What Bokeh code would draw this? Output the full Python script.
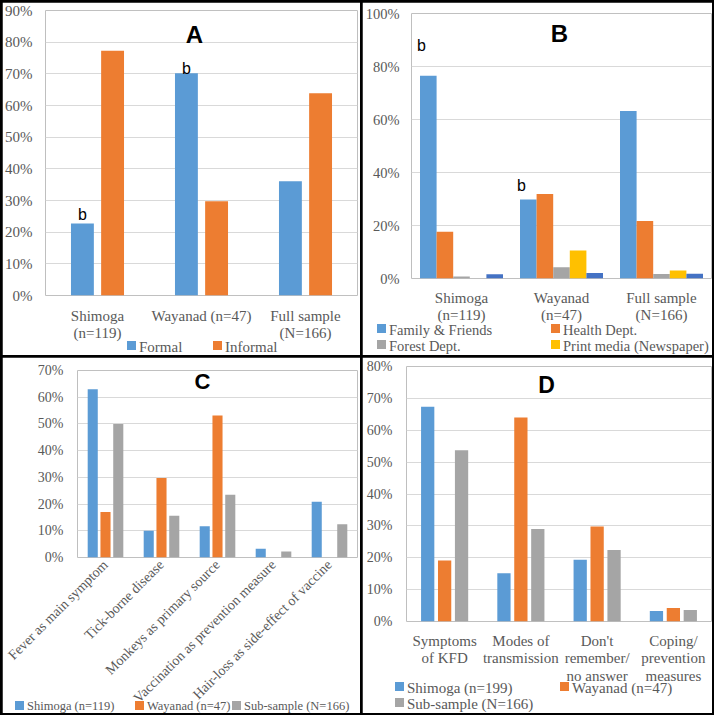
from bokeh.plotting import figure
from bokeh.layouts import column
from bokeh.models import (ColumnDataSource, FactorRange, Range1d, Label,
                          PrintfTickFormatter, FixedTicker, GridBox, Div)
from bokeh.transform import dodge
from bokeh.core.properties import value
from bokeh.embed import file_html
from bokeh.resources import INLINE
import html as _html
import math

SERIF = "Liberation Serif"
SANS = "Liberation Sans"
TXT = "#595959"
GRID = "#D9D9D9"
BLUE = "#5B9BD5"; ORANGE = "#ED7D31"; GRAY = "#A5A5A5"; YELLOW = "#FFC000"; DBLUE = "#4472C4"

# ---------------- Panel A ----------------
a_cats = ["Shimoga\n(n=119)", "Wayanad (n=47)", "Full sample\n(N=166)"]
a_formal = [22.7, 70.2, 36.1]
a_informal = [77.3, 29.8, 63.9]
a_yticks = [0, 10, 20, 30, 40, 50, 60, 70, 80, 90]
a_b_cats = ["Shimoga\n(n=119)", "Wayanad (n=47)"]
a_b_vals = [22.7, 70.2]
a_legend = ["Formal", "Informal"]

# ---------------- Panel B ----------------
b_cats = ["Shimoga\n(n=119)", "Wayanad\n(n=47)", "Full sample\n(N=166)"]
b_family = [76.5, 29.8, 63.2]
b_health = [17.6, 31.9, 21.7]
b_forest = [0.8, 4.2, 1.7]
b_print = [0.0, 10.6, 3.0]
b_other = [1.6, 2.1, 1.8]
b_yticks = [0, 20, 40, 60, 80, 100]
b_b_cats = ["Shimoga\n(n=119)", "Wayanad\n(n=47)"]
b_b_vals = [76.5, 29.8]
b_legend = ["Family & Friends", "Health Dept.", "Forest Dept.", "Print media (Newspaper)"]

# ---------------- Panel C ----------------
c_cats = ["Fever as main symptom", "Tick-borne disease", "Monkeys as primary source",
          "Vaccination as prevention measure", "Hair-loss as side-effect of vaccine"]
c_shimoga = [63.0, 10.0, 11.7, 3.3, 20.9]
c_wayanad = [17.0, 29.8, 53.2, 0.0, 0.0]
c_sub = [50.0, 15.6, 23.5, 2.2, 12.4]
c_yticks = [0, 10, 20, 30, 40, 50, 60, 70]
c_legend = ["Shimoga (n=119)", "Wayanad (n=47)", "Sub-sample (N=166)"]

# ---------------- Panel D ----------------
d_cats = ["Symptoms\nof KFD", "Modes of\ntransmission", "Don't\nremember/\nno answer",
          "Coping/\nprevention\nmeasures"]
d_shimoga = [67.4, 15.1, 19.4, 3.3]
d_wayanad = [19.1, 64.0, 29.8, 4.2]
d_sub = [53.7, 29.0, 22.4, 3.6]
d_yticks = [0, 10, 20, 30, 40, 50, 60, 70, 80]
d_legend = ["Shimoga (n=199)", "Wayanad (n=47)", "Sub-sample (N=166)"]

WL, WR, HT, HB = 358, 350, 353, 356


def make_fig(cats, ymax, yticks, w, h, left, right, top, bottom, ystand, xstand, ysize, xsize):
    p = figure(x_range=FactorRange(*cats), y_range=Range1d(0, ymax), width=w, height=h,
               output_backend="svg", toolbar_location=None,
               min_border_left=left, min_border_right=right, min_border_top=top,
               min_border_bottom=bottom)
    p.outline_line_color = None
    p.background_fill_color = "white"
    p.border_fill_color = "white"
    p.xgrid.grid_line_color = None
    p.ygrid.grid_line_color = GRID
    p.ygrid.grid_line_width = 1
    p.yaxis.ticker = FixedTicker(ticks=yticks)
    p.yaxis.formatter = PrintfTickFormatter(format="%d%%")
    for ax in (p.xaxis[0], p.yaxis[0]):
        ax.axis_line_color = None
        ax.major_tick_line_color = None
        ax.minor_tick_line_color = None
        ax.major_tick_out = 0
        ax.major_tick_in = 0
        ax.minor_tick_out = 0
        ax.minor_tick_in = 0
        ax.major_label_text_font = SERIF
        ax.major_label_text_color = TXT
    p.xaxis.major_label_text_line_height = 1.1
    p.yaxis.major_label_text_font_size = ysize
    p.xaxis.major_label_text_font_size = xsize
    p.yaxis.major_label_standoff = ystand
    p.xaxis.major_label_standoff = xstand
    return p


def legend_div(w, h, labels, colors, spots, size):
    parts = []
    for lab, col, (x, yc) in zip(labels, colors, spots):
        parts.append(
            f'<div style="position:absolute;left:{x}px;top:{yc - 7}px;height:14px;'
            f'line-height:14px;white-space:nowrap;">'
            f'<span style="display:inline-block;width:9px;height:9px;background:{col};'
            f'margin-right:3px;vertical-align:middle;position:relative;top:-1px;"></span>'
            f'<span style="vertical-align:middle;">{_html.escape(lab)}</span></div>')
    text = (f'<div style="position:relative;width:{w}px;height:{h}px;'
            f'font-family:\'{SERIF}\';font-size:{size};color:{TXT};">' + "".join(parts) + '</div>')
    return Div(text=text, width=w, height=h, margin=0,
               styles={"pointer-events": "none", "background": "transparent"})


def title(p, text, x, y, size):
    p.add_layout(Label(x=x, y=y, x_units="screen", y_units="screen", text=text,
                       text_font=SANS, text_font_style="bold", text_font_size=size,
                       text_align="center", text_baseline="middle", text_color="black"))


# ---------- A ----------
pA = make_fig(a_cats, 90, a_yticks, WL, HT, 43, 3, 8, 60, 13, 12, "15px", "15px")
srcA = ColumnDataSource(dict(cat=a_cats, formal=a_formal, informal=a_informal))
pA.vbar(x=dodge("cat", -0.145, range=pA.x_range), top="formal", width=0.22,
        source=srcA, fill_color=BLUE, line_color=None)
pA.vbar(x=dodge("cat", 0.145, range=pA.x_range), top="informal", width=0.22,
        source=srcA, fill_color=ORANGE, line_color=None)
srcAb = ColumnDataSource(dict(cat=a_b_cats, v=a_b_vals, t=["b", "b"], dy=[-9, -5]))
pA.text(x=dodge("cat", -0.145, range=pA.x_range), y="v", text="t", y_offset="dy",
        source=srcAb, text_font=value(SANS), text_font_size="16px", text_align="center",
        text_baseline="middle", text_color="black")
title(pA, "A", 149, 261, "24px")
dA = legend_div(WL, HT, a_legend, [BLUE, ORANGE], [(125, 343), (211, 343)], "15px")

# ---------- B ----------
pB = make_fig(b_cats, 100, b_yticks, WR, HT, 49, 1, 11, 77, 12, 11, "14.5px", "15px")
srcB = ColumnDataSource(dict(cat=b_cats, family=b_family, health=b_health,
                             forest=b_forest, prnt=b_print, other=b_other))
bw = 0.166
for off, col, colr in [(-2, "family", BLUE), (-1, "health", ORANGE), (0, "forest", GRAY),
                       (1, "prnt", YELLOW), (2, "other", DBLUE)]:
    pB.vbar(x=dodge("cat", off * bw, range=pB.x_range), top=col, width=bw,
            source=srcB, fill_color=colr, line_color=None)
srcBb = ColumnDataSource(dict(cat=b_b_cats, v=b_b_vals, t=["b", "b"], dy=[-30, -14]))
pB.text(x=dodge("cat", -2.5 * bw, range=pB.x_range), y="v", text="t", y_offset="dy",
        x_offset=-3, source=srcBb, text_font=value(SANS), text_font_size="16px",
        text_align="left", text_baseline="middle", text_color="black")
title(pB, "B", 148, 245, "24px")
dB = legend_div(WR, HT, b_legend, [BLUE, ORANGE, GRAY, YELLOW],
                [(15, 326), (189, 326), (15, 342), (189, 342)], "14.5px")

# ---------- C ----------
pC = make_fig(c_cats, 70, c_yticks, WL, HB, 75, 3, 13, 153, 14, 5, "14px", "14px")
pC.xaxis.major_label_orientation = math.pi / 4
srcC = ColumnDataSource(dict(cat=c_cats, s=c_shimoga, w=c_wayanad, u=c_sub))
for off, col, colr in [(-0.228, "s", BLUE), (0, "w", ORANGE), (0.228, "u", GRAY)]:
    pC.vbar(x=dodge("cat", off, range=pC.x_range), top=col, width=0.18,
            source=srcC, fill_color=colr, line_color=None)
title(pC, "C", 125, 176, "22px")
dC = legend_div(WL, HB, c_legend, [BLUE, ORANGE, GRAY],
                [(13, 348), (133, 348), (230, 348)], "12.5px")

# ---------- D ----------
pD = make_fig(d_cats, 80, d_yticks, WR, HB, 44, 1, 9, 92, 14, 11, "14px", "15px")
srcD = ColumnDataSource(dict(cat=d_cats, s=d_shimoga, w=d_wayanad, u=d_sub))
for off, col, colr in [(-0.222, "s", BLUE), (0, "w", ORANGE), (0.222, "u", GRAY)]:
    pD.vbar(x=dodge("cat", off, range=pD.x_range), top=col, width=0.174,
            source=srcD, fill_color=colr, line_color=None)
title(pD, "D", 140, 237, "23px")
dD = legend_div(WR, HB, d_legend, [BLUE, ORANGE, GRAY],
                [(33, 329), (198, 329), (33, 345)], "15px")

grid = GridBox(children=[(column(pA), 0, 0), (dA, 0, 0), (column(pB), 0, 1), (dB, 0, 1),
                         (column(pC), 1, 0), (dC, 1, 0), (column(pD), 1, 1), (dD, 1, 1)],
               spacing=2, styles={"background-color": "black", "padding": "2px"})

open("out.html", "w").write(file_html(grid, INLINE))
